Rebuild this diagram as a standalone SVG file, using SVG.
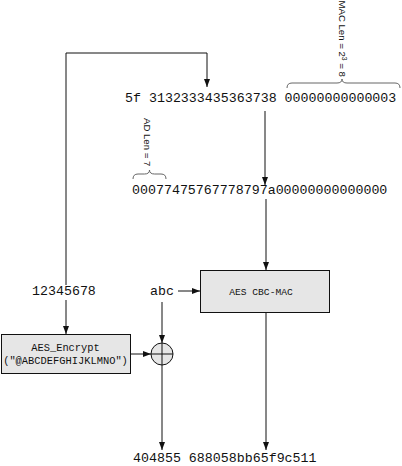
<svg xmlns="http://www.w3.org/2000/svg" width="402" height="466" viewBox="0 0 402 466">
<style>
.mono{font-family:"Liberation Mono","Courier New",monospace;fill:#111}
.big{font-size:13.3px}
.sans{font-family:"Liberation Sans",Arial,sans-serif;font-size:9.6px;fill:#111}
.ln{fill:none;stroke:#111;stroke-width:1}
.br{fill:none;stroke:#666;stroke-width:1}
.box{fill:#e6e6e6;stroke:#111;stroke-width:1}
</style>
<defs>
<marker id="arr" markerWidth="8" markerHeight="8" refX="8" refY="4" orient="auto" markerUnits="userSpaceOnUse">
<path d="M0,1 L8,4 L0,7 Z" fill="#111"/>
</marker>
</defs>
<rect width="402" height="466" fill="#fff"/>
<g id="connectors">
<path class="ln" d="M66,285 V53 H207 V87" marker-end="url(#arr)"/>
<path class="ln" d="M66,300 V334" marker-end="url(#arr)"/>
<path class="ln" d="M265,111 V185" marker-end="url(#arr)"/>
<path class="ln" d="M266,199 V270" marker-end="url(#arr)"/>
<path class="ln" d="M178,291 H200" marker-end="url(#arr)"/>
<path class="ln" d="M162,302 V343" marker-end="url(#arr)"/>
<path class="ln" d="M130,354 H151" marker-end="url(#arr)"/>
<path class="ln" d="M162,365 V450" marker-end="url(#arr)"/>
<path class="ln" d="M266,312 V450" marker-end="url(#arr)"/>
</g>
<g id="block0">
<text class="mono big" x="125" y="102">5f 3132333435363738 00000000000003</text>
</g>
<g id="maclen">
<path class="br" d="M287,88 Q287,83 292,83 H337 Q342,83 342,79 Q342,83 347,83 H395 Q400,83 400,88"/>
<text class="sans" transform="translate(338.5,0.5) rotate(90)">MAC Len = 2<tspan font-size="6.8" dy="-3.4">3</tspan><tspan dy="3.4"> = 8</tspan></text>
</g>
<g id="adlen">
<path class="br" d="M133,179 Q133,174 138,174 H144.5 Q149.5,174 149.5,170 Q149.5,174 154.5,174 H161 Q166,174 166,179"/>
<text class="sans" transform="translate(143.5,118) rotate(90)">AD Len = 7</text>
</g>
<g id="block1">
<text class="mono big" x="132" y="194">00077475767778797a00000000000000</text>
</g>
<g id="nonce">
<text class="mono big" x="32" y="295">12345678</text>
</g>
<g id="abc">
<text class="mono big" x="150" y="295">abc</text>
</g>
<g id="cbcmac">
<rect class="box" x="200.5" y="270.5" width="129" height="42"/>
<text class="mono" font-size="9.6" x="261" y="295" text-anchor="middle">AES CBC-MAC</text>
</g>
<g id="aesenc">
<rect class="box" x="1.5" y="334.5" width="129" height="39"/>
<text class="mono" font-size="10.4" x="65.5" y="351" text-anchor="middle">AES_Encrypt</text>
<text class="mono" font-size="10.4" x="65.5" y="364" text-anchor="middle">("@ABCDEFGHIJKLMNO")</text>
</g>
<g id="xor">
<circle cx="162" cy="354" r="11" fill="#e6e6e6" stroke="#111" stroke-width="1"/>
<path class="ln" d="M151,354 H173 M162,343 V365"/>
</g>
<g id="output">
<text class="mono big" x="133" y="462">404855 688058bb65f9c511</text>
</g>
</svg>
